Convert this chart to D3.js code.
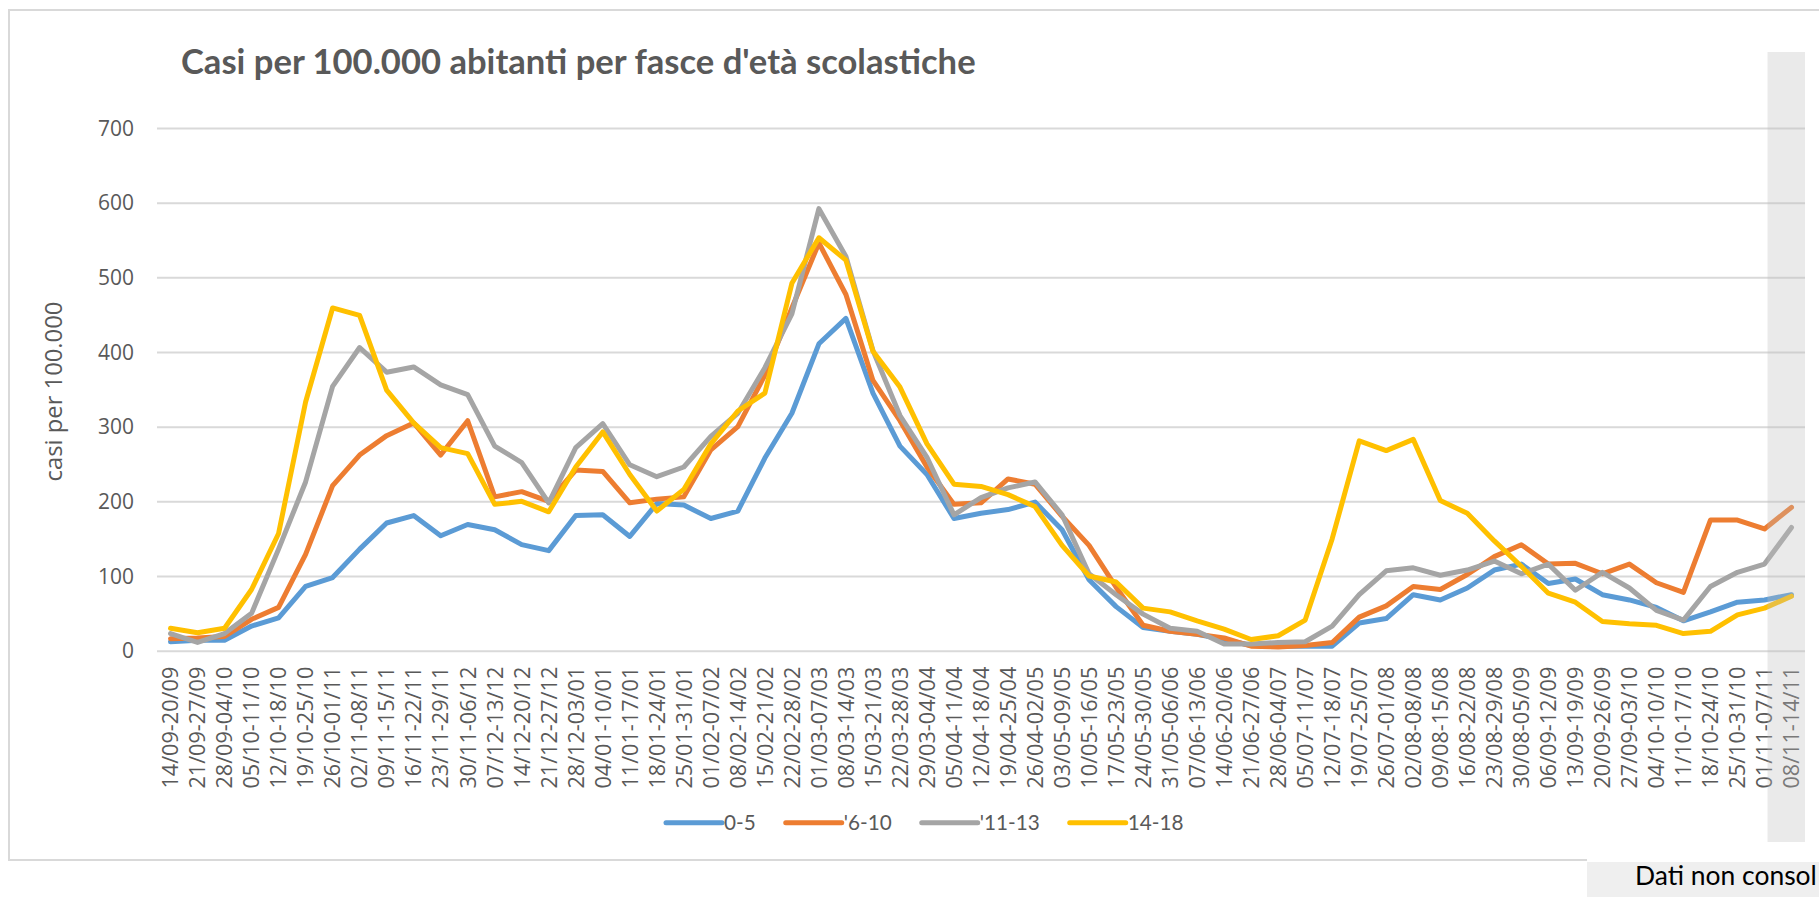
<!DOCTYPE html>
<html>
<head>
<meta charset="utf-8">
<script src="https://cdn.jsdelivr.net/npm/d3@7"></script>
<style>
  html, body { margin: 0; padding: 0; background: #ffffff; }
  svg { display: block; }
</style>
</head>
<body>
<svg id="chart" width="1819" height="897"></svg>
<script>
const categories = [
  "14/09-20/09","21/09-27/09","28/09-04/10","05/10-11/10","12/10-18/10","19/10-25/10","26/10-01/11",
  "02/11-08/11","09/11-15/11","16/11-22/11","23/11-29/11","30/11-06/12","07/12-13/12","14/12-20/12",
  "21/12-27/12","28/12-03/01","04/01-10/01","11/01-17/01","18/01-24/01","25/01-31/01","01/02-07/02",
  "08/02-14/02","15/02-21/02","22/02-28/02","01/03-07/03","08/03-14/03","15/03-21/03","22/03-28/03",
  "29/03-04/04","05/04-11/04","12/04-18/04","19/04-25/04","26/04-02/05","03/05-09/05","10/05-16/05",
  "17/05-23/05","24/05-30/05","31/05-06/06","07/06-13/06","14/06-20/06","21/06-27/06","28/06-04/07",
  "05/07-11/07","12/07-18/07","19/07-25/07","26/07-01/08","02/08-08/08","09/08-15/08","16/08-22/08",
  "23/08-29/08","30/08-05/09","06/09-12/09","13/09-19/09","20/09-26/09","27/09-03/10","04/10-10/10",
  "11/10-17/10","18/10-24/10","25/10-31/10","01/11-07/11","08/11-14/11"
];

const s0_5 = [12,14,14,33,44,86,98,136,171,181,154,169,162,142,134,181,182,153,197,195,177,187,258,318,411,445,345,274,236,177,184,189,199,162,95,59,31,26,22,15,7,6,6,6,37,43,75,68,84,108,116,90,96,75,68,58,40,52,65,68,75];
const s6_10 = [16,17,19,42,58,129,221,262,288,305,262,308,206,213,200,242,240,198,203,206,269,300,369,459,546,477,362,308,246,196,198,230,223,180,141,85,34,26,22,17,6,5,7,11,45,60,86,82,102,126,142,116,117,103,116,91,78,175,175,163,192];
const s11_13 = [23,11,23,50,136,226,354,406,373,380,356,343,274,252,198,272,304,249,233,246,287,318,379,451,592,528,402,315,259,182,205,218,226,182,103,75,49,30,26,9,9,11,12,33,75,107,111,101,108,120,103,116,81,105,84,54,41,86,105,116,165];
const s14_18 = [30,24,30,82,157,333,459,449,349,305,272,264,196,200,186,246,293,236,187,216,277,321,345,492,553,523,401,353,277,223,220,209,193,141,100,92,57,52,40,29,15,20,41,150,281,268,283,201,184,147,113,77,65,39,36,34,23,26,48,57,73];

const seriesNames = ["0-5", "'6-10", "'11-13", "14-18"];
const seriesColors = ["#5b9bd5", "#ed7d31", "#a5a5a5", "#ffc000"];
const yTicks = [0, 100, 200, 300, 400, 500, 600, 700];

const titleText = "Casi per 100.000 abitanti per fasce d'età scolastiche";
const yTitleText = "casi per 100.000";
const noteText = "Dati non consol";

const series = [s0_5, s6_10, s11_13, s14_18].map((vals, k) => ({
  name: seriesNames[k], color: seriesColors[k],
  values: vals.map((v, i) => ({ cat: categories[i], v }))
}));

const svg = d3.select("#chart");
const W = 1819, H = 897;
const plot = { left: 157, right: 1805, top: 128, bottom: 650.7 };

const calibri = "Lato, 'Open Sans', sans-serif";
const segoe = "'Open Sans', 'Noto Sans', sans-serif";

function fitFont(text, family, weight, target) {
  const t = svg.append("text").attr("font-family", family).attr("font-weight", weight)
    .attr("font-size", 100).text(text);
  const w = t.node().getComputedTextLength();
  t.remove();
  return 100 * target / w;
}

const x = d3.scaleBand().domain(categories).range([plot.left, plot.right]).padding(0);
const xc = c => x(c) + x.bandwidth() / 2;
const y = d3.scaleLinear().domain([0, 700]).range([plot.bottom, plot.top]);

// Outer chart border
svg.append("path")
  .attr("d", `M1587,860 L9,860 L9,10 L1830,10`)
  .attr("fill", "none").attr("stroke", "#d9d9d9").attr("stroke-width", 2);

// Title
const titleSize = fitFont(titleText, calibri, 700, 795);
svg.append("text").attr("x", 181).attr("y", 74)
  .attr("font-family", calibri).attr("font-weight", 700).attr("font-size", titleSize)
  .attr("fill", "#595959").text(titleText);

// Y axis with gridlines
const tickFont = fitFont("100", segoe, 400, 36);
const yAxis = d3.axisLeft(y).tickValues(yTicks).tickSize(-(plot.right - plot.left)).tickPadding(23)
  .tickFormat(d3.format("d"));
const gy = svg.append("g").attr("transform", `translate(${plot.left},0)`).call(yAxis);
gy.select(".domain").remove();
gy.selectAll(".tick line").attr("stroke", "#d9d9d9").attr("stroke-width", 2);
gy.selectAll(".tick text").attr("font-family", segoe).attr("font-size", tickFont)
  .attr("fill", "#595959").attr("dy", "0.34em");

// Y axis title
const yTitleSize = fitFont(yTitleText, segoe, 400, 180);
svg.append("text").attr("transform", `translate(62,391.5) rotate(-90)`)
  .attr("text-anchor", "middle").attr("font-family", segoe).attr("font-size", yTitleSize)
  .attr("fill", "#595959").text(yTitleText);

// X axis labels
const xLabSize = fitFont(categories[0], segoe, 400, 122);
const xAxis = d3.axisBottom(x).tickSize(0).tickPadding(0);
const gx = svg.append("g").attr("transform", `translate(0,${plot.bottom})`).call(xAxis);
gx.select(".domain").remove();
gx.selectAll(".tick text")
  .attr("transform", "rotate(-90)")
  .attr("x", -16).attr("y", 0).attr("dy", "0.36em")
  .attr("text-anchor", "end")
  .attr("font-family", segoe).attr("font-size", xLabSize).attr("fill", "#595959");

// Lines
const line = d3.line().x(d => xc(d.cat)).y(d => y(d.v));
svg.append("g").selectAll("path").data(series).join("path")
  .attr("d", d => line(d.values))
  .attr("fill", "none").attr("stroke", d => d.color).attr("stroke-width", 5)
  .attr("stroke-linejoin", "round").attr("stroke-linecap", "round");

// Legend
const legSize = fitFont("'11-13", calibri, 400, 60);
const legend = svg.append("g");
let lx = 666;
const legY = 822.7;
series.forEach(s => {
  legend.append("line").attr("x1", lx).attr("x2", lx + 56).attr("y1", legY).attr("y2", legY)
    .attr("stroke", s.color).attr("stroke-width", 5).attr("stroke-linecap", "round");
  const t = legend.append("text").attr("x", lx + 58).attr("y", legY).attr("dy", "0.35em")
    .attr("font-family", calibri).attr("font-size", legSize).attr("fill", "#595959").text(s.name);
  lx += 58 + t.node().getComputedTextLength() + 30;
});

// "not consolidated" band over the last week
const lastX = xc(categories[categories.length - 1]);
svg.append("rect")
  .attr("x", lastX - 24).attr("y", 52).attr("width", plot.right - (lastX - 24)).attr("height", 842 - 52)
  .attr("fill", "#bfbfbf").attr("opacity", 0.32);

// Note box bottom right
svg.append("rect").attr("x", 1587).attr("y", 862).attr("width", W - 1587).attr("height", H - 862)
  .attr("fill", "#efefef");
const noteSize = fitFont(noteText, calibri, 400, 182);
svg.append("text").attr("x", 1635).attr("y", 885)
  .attr("font-family", calibri).attr("font-size", noteSize).attr("fill", "#000000").text(noteText);
</script>
</body>
</html>
